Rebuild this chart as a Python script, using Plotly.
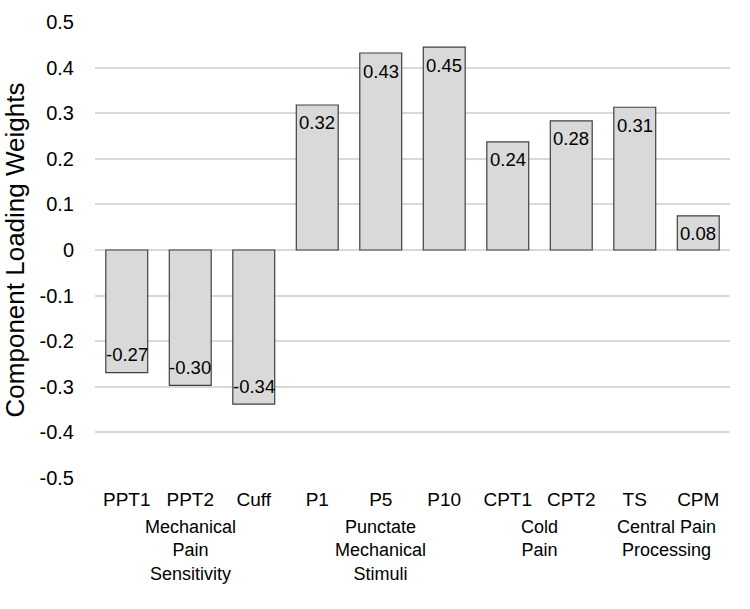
import plotly.graph_objects as go

categories = ["PPT1", "PPT2", "Cuff", "P1", "P5", "P10", "CPT1", "CPT2", "TS", "CPM"]
values = [-0.269, -0.297, -0.338, 0.318, 0.432, 0.445, 0.237, 0.283, 0.313, 0.075]
labels = ["-0.27", "-0.30", "-0.34", "0.32", "0.43", "0.45", "0.24", "0.28", "0.31", "0.08"]
groups = ["Mechanical<br>Pain<br>Sensitivity", "Punctate<br>Mechanical<br>Stimuli",
          "Cold<br>Pain", "Central Pain<br>Processing"]
group_centers = [1, 4, 6.5, 8.5]
y_ticks = [-0.5, -0.4, -0.3, -0.2, -0.1, 0, 0.1, 0.2, 0.3, 0.4, 0.5]
y_ticktext = ["-0.5", "-0.4", "-0.3", "-0.2", "-0.1", "0", "0.1", "0.2", "0.3", "0.4", "0.5"]

font = "Liberation Sans, Arial, sans-serif"

fig = go.Figure()
fig.add_trace(go.Bar(
    x=list(range(len(categories))), y=values,
    marker=dict(color="#d9d9d9", line=dict(color="#404040", width=1.2)),
    width=0.66,
    hoverinfo="skip",
))

for i, (v, t) in enumerate(zip(values, labels)):
    fig.add_annotation(x=i, y=v, xref="x", yref="y", text=t, showarrow=False,
                       yanchor="middle", xanchor="center",
                       yshift=-18 if v > 0 else 18,
                       font=dict(family=font, size=18.5, color="#000000"))

for g, c in zip(groups, group_centers):
    fig.add_annotation(x=c, xref="x", y=-0.081, yref="paper", text=g, showarrow=False,
                       yanchor="top", xanchor="center", align="center",
                       font=dict(family=font, size=18, color="#000000"))

fig.update_layout(
    width=750, height=609,
    margin=dict(l=95, r=20, t=22, b=131),
    paper_bgcolor="white", plot_bgcolor="white",
    showlegend=False,
    xaxis=dict(
        tickmode="array", tickvals=list(range(len(categories))), ticktext=categories,
        range=[-0.5, len(categories) - 0.5],
        showgrid=False, zeroline=False, showline=False,
        ticks="outside", ticklen=4, tickcolor="rgba(0,0,0,0)",
        tickfont=dict(family=font, size=19, color="#000000"),
    ),
    yaxis=dict(
        range=[-0.5, 0.5], tickmode="array", tickvals=y_ticks, ticktext=y_ticktext,
        showgrid=True, gridcolor="#d9d9d9", gridwidth=1.5,
        zeroline=True, zerolinecolor="#d9d9d9", zerolinewidth=1.5,
        showline=False, ticks="outside", ticklen=16, tickcolor="rgba(0,0,0,0)",
        tickfont=dict(family=font, size=20, color="#000000"),
        title=dict(text="Component Loading Weights", standoff=10,
                   font=dict(family=font, size=26, color="#000000")),
    ),
)

fig.write_html("out.html", config={"displayModeBar": False},
               post_script="document.body.style.margin='0';document.body.style.padding='0';")
